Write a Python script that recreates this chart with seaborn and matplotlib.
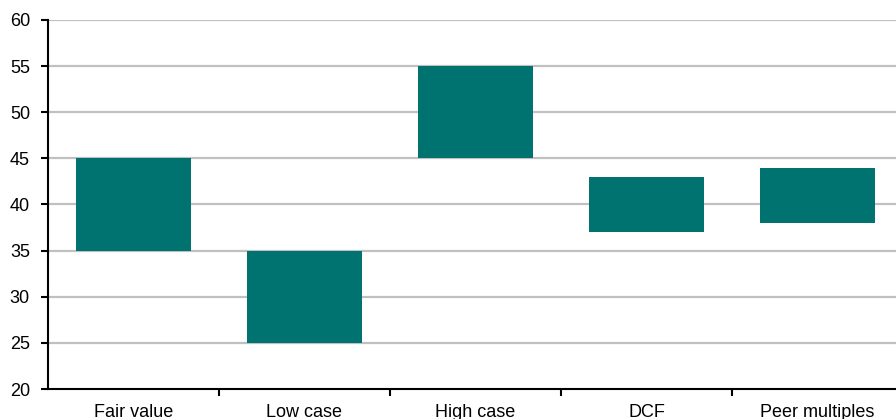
import matplotlib
matplotlib.use("Agg")
import matplotlib.pyplot as plt
import seaborn as sns
import pandas as pd
import numpy as np

categories = ["Fair value", "Low case", "High case", "DCF", "Peer multiples"]
low_values = [35, 25, 45, 37, 38]
high_values = [45, 35, 55, 43, 44]
y_ticks = [20, 25, 30, 35, 40, 45, 50, 55, 60]

df = pd.DataFrame({
    "method": categories,
    "low": low_values,
    "high": high_values,
})
df["span"] = df["high"] - df["low"]

sns.set_theme(style="white")
plt.rcParams["font.family"] = ["Liberation Sans", "DejaVu Sans"]

fig = plt.figure(figsize=(8.96, 4.19), dpi=100)
ax = fig.add_axes([48 / 896, 30 / 419, 855 / 896, 369 / 419])

sns.barplot(data=df, x="method", y="span", bottom=df["low"].values,
            color="#007370", saturation=1, width=0.67, ax=ax,
            linewidth=0, zorder=3)

ax.set_ylim(20, 60)
ax.set_xlim(-0.5, len(categories) - 0.5)
ax.set_yticks(y_ticks)
ax.set_yticklabels([str(v) for v in y_ticks])
ax.set_xlabel("")
ax.set_ylabel("")

# horizontal gridlines
for v in y_ticks[1:]:
    ax.axhline(v, color="#c0c0c0", linewidth=1.6, zorder=1)

# separator ticks between categories
ax.set_xticks(np.arange(len(categories) - 1) + 0.5, minor=True)
ax.tick_params(axis="x", which="major", length=0, labelsize=13, pad=11, colors="black")
ax.tick_params(axis="x", which="minor", length=5, width=1.5, direction="out",
               bottom=True, color="black")
ax.tick_params(axis="y", which="major", length=5, width=1.5, direction="out",
               left=True, labelsize=13, pad=8, colors="black")

for side in ["top", "right"]:
    ax.spines[side].set_visible(False)
for side in ["left", "bottom"]:
    ax.spines[side].set_color("black")
    ax.spines[side].set_linewidth(1.5)
    ax.spines[side].set_zorder(4)

fig.savefig("out.png", dpi=100)
